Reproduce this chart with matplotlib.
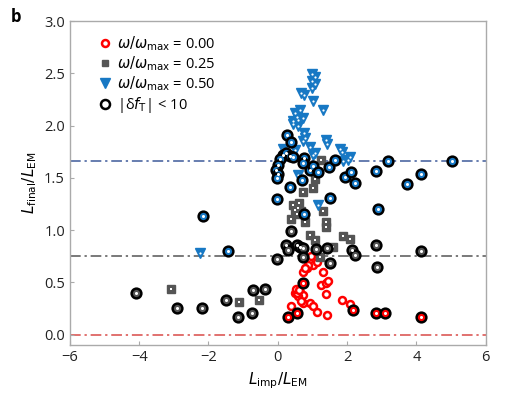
import matplotlib
matplotlib.use("Agg")
import matplotlib.pyplot as plt
from matplotlib.lines import Line2D

plt.rcParams['font.family'] = ['Open Sans', 'DejaVu Sans']
plt.rcParams['mathtext.fontset'] = 'dejavusans'

# omega/omega_max = 0.00 (red)
red_x = [1.02, 0.83, 0.73, 1.31, 1.26, 1.40, 1.45, 1.40, 0.49, 0.63, 0.73, 0.59, 0.73, 0.92,
         1.02, 1.12, 0.39, 1.43, 1.85, 2.08, 0.97, 1.12, 0.87, 0.78, 0.68, 0.55, 0.52, 0.60]
red_y = [0.67, 0.64, 0.60, 0.60, 0.48, 0.49, 0.51, 0.39, 0.40, 0.41, 0.38, 0.37, 0.30, 0.30,
         0.27, 0.22, 0.27, 0.19, 0.33, 0.29, 0.75, 0.70, 0.67, 0.64, 0.32, 0.40, 0.44, 0.43]
red_cx = [0.73, 0.30, 0.54, 2.17, 2.83, 3.10, 4.12]
red_cy = [0.49, 0.17, 0.21, 0.24, 0.21, 0.21, 0.17]

# omega/omega_max = 0.25 (grey)
grey_x = [1.26, 1.07, 0.73, 1.02, 0.49, 0.59, 0.39, 0.68, 0.78, 0.55, 1.31, 1.40, 1.40, 0.92,
          1.07, 1.88, 2.08, 1.60, 1.21, -3.09, -1.12, -0.55, 0.45, 0.62]
grey_y = [1.67, 1.49, 1.37, 1.40, 1.19, 1.21, 1.11, 1.18, 1.08, 1.15, 1.18, 1.08, 1.03, 0.955,
          0.91, 0.94, 0.92, 0.84, 0.74, 0.44, 0.31, 0.33, 1.24, 1.26]
grey_cx = [0.37, 0.25, 0.30, 0.54, 0.63, 0.73, 1.11, 1.43, 0.73, -0.01, 1.50, 2.15, 2.22, 2.83,
           2.85, 4.12, -4.10, -2.90, -2.20, -1.50, -1.15, -0.73, -0.71, -0.37]
grey_cy = [0.99, 0.86, 0.81, 0.86, 0.84, 0.83, 0.82, 0.83, 0.74, 0.72, 0.69, 0.81, 0.76, 0.86,
           0.65, 0.80, 0.40, 0.26, 0.26, 0.33, 0.17, 0.21, 0.43, 0.44]

# omega/omega_max = 0.50 (blue)
blue_x = [1.00, 1.08, 0.98, 1.06, 1.00, 0.68, 0.75, 1.02, 1.31, 0.63, 0.49, 0.54, 0.44, 0.59,
          0.73, 0.44, 0.59, 0.76, 0.78, 0.73, 1.40, 1.43, 0.92, 1.07, 1.02, 1.79, 1.85, 2.08,
          2.03, 1.88, 0.15, 0.49, 0.59, 1.16, -2.25]
blue_y = [2.49, 2.47, 2.43, 2.40, 2.36, 2.31, 2.29, 2.24, 2.15, 2.15, 2.12, 2.08, 2.04, 2.05,
          2.07, 2.02, 2.00, 1.93, 1.88, 1.85, 1.86, 1.82, 1.80, 1.74, 1.72, 1.78, 1.75, 1.70,
          1.67, 1.66, 1.78, 1.77, 1.53, 1.24, 0.78]
blue_cx = [0.28, 0.39, 0.15, 0.25, 0.35, 0.45, 0.05, 0.01, -0.04, 0.01, -0.01, 0.76, 0.73, 0.92,
           1.02, 1.16, 1.48, 1.64, 1.93, 2.12, 2.24, 0.71, 0.35, -0.01, 1.50, 2.83, 3.19, 3.73,
           4.12, 5.04, 2.90, 0.76, -2.15, -1.43]
blue_cy = [1.91, 1.84, 1.72, 1.74, 1.71, 1.70, 1.68, 1.62, 1.58, 1.54, 1.50, 1.69, 1.64, 1.58,
           1.61, 1.56, 1.60, 1.67, 1.51, 1.56, 1.45, 1.48, 1.41, 1.30, 1.31, 1.57, 1.66, 1.44,
           1.54, 1.66, 1.20, 1.15, 1.14, 0.80]

# horizontal reference levels
levels = [0.0, 0.75, 1.66]
level_colors = ['#d94a48', '#555555', '#3d5a9a']

RED = '#ff0000'
GREY = '#555555'
BLUE = '#1778c4'

fig = plt.figure(figsize=(5.06, 3.99), dpi=100)
ax = fig.add_axes([0.138, 0.135, 0.822, 0.812])

for lv, c in zip(levels, level_colors):
    ax.axhline(lv, color=c, lw=1.1, ls=(0, (7, 2.5, 1.5, 2.5)), zorder=1)

# red
ax.plot(red_x, red_y, 'o', ms=5, mfc='white', mec=RED, mew=1.8, ls='none', zorder=3)
ax.plot(red_cx, red_cy, 'o', ms=7, mfc=RED, mec='black', mew=1.8, ls='none', zorder=4)
ax.plot(red_cx, red_cy, 'o', ms=2.2, mfc='white', mec='white', mew=0, ls='none', zorder=5)

# grey
ax.plot(grey_x, grey_y, 's', ms=5.2, mfc=GREY, mec=GREY, ls='none', zorder=3)
ax.plot(grey_x, grey_y, 's', ms=1.6, mfc='white', mec='white', mew=0, ls='none', zorder=3)
ax.plot(grey_cx, grey_cy, 'o', ms=7, mfc=GREY, mec='black', mew=1.8, ls='none', zorder=4)
ax.plot(grey_cx, grey_cy, 'o', ms=2.2, mfc='white', mec='white', mew=0, ls='none', zorder=5)

# blue
ax.plot(blue_x, blue_y, 'v', ms=7.5, mfc=BLUE, mec=BLUE, ls='none', zorder=3)
ax.plot(blue_x, blue_y, 'o', ms=1.6, mfc='white', mec='white', mew=0, ls='none', zorder=3)
ax.plot(blue_cx, blue_cy, 'o', ms=7, mfc=BLUE, mec='black', mew=1.8, ls='none', zorder=4)
ax.plot(blue_cx, blue_cy, 'o', ms=2.2, mfc='white', mec='white', mew=0, ls='none', zorder=5)

ax.set_xlim(-6, 6)
ax.set_ylim(-0.1, 3.0)
ax.set_xticks([-6, -4, -2, 0, 2, 4, 6])
ax.set_xticklabels(['\u22126', '\u22124', '\u22122', '0', '2', '4', '6'])
ax.set_yticks([0.0, 0.5, 1.0, 1.5, 2.0, 2.5, 3.0])
ax.set_yticklabels(['0.0', '0.5', '1.0', '1.5', '2.0', '2.5', '3.0'])
ax.tick_params(direction='in', length=3, color='#aaaaaa', labelsize=10.5, labelcolor='#222222')
for s in ax.spines.values():
    s.set_color('#aaaaaa')
    s.set_linewidth(1.0)

ax.set_xlabel(r'$L_{\mathrm{imp}}/L_{\mathrm{EM}}$', fontsize=11, labelpad=4)
ax.set_ylabel(r'$L_{\mathrm{final}}/L_{\mathrm{EM}}$', fontsize=11, labelpad=4)

fig.text(0.022, 0.945, 'b', fontsize=12, fontweight='bold')

handles = [
    Line2D([], [], marker='o', ls='none', ms=5, mfc='white', mec=RED, mew=1.8),
    Line2D([], [], marker='s', ls='none', ms=5, mfc=GREY, mec=GREY),
    Line2D([], [], marker='v', ls='none', ms=7, mfc=BLUE, mec=BLUE),
    Line2D([], [], marker='o', ls='none', ms=6.5, mfc='white', mec='black', mew=1.8),
]
labels = [r'$\omega/\omega_{\mathrm{max}}$ = 0.00',
          r'$\omega/\omega_{\mathrm{max}}$ = 0.25',
          r'$\omega/\omega_{\mathrm{max}}$ = 0.50',
          r'|δ$f_{\mathrm{T}}$| < 10']
ax.legend(handles, labels, loc='upper left', frameon=False, fontsize=10.5,
          handlelength=0.8, handletextpad=0.4, labelspacing=0.1,
          bbox_to_anchor=(0.04, 1.0))

fig.savefig('out.png', dpi=100)
